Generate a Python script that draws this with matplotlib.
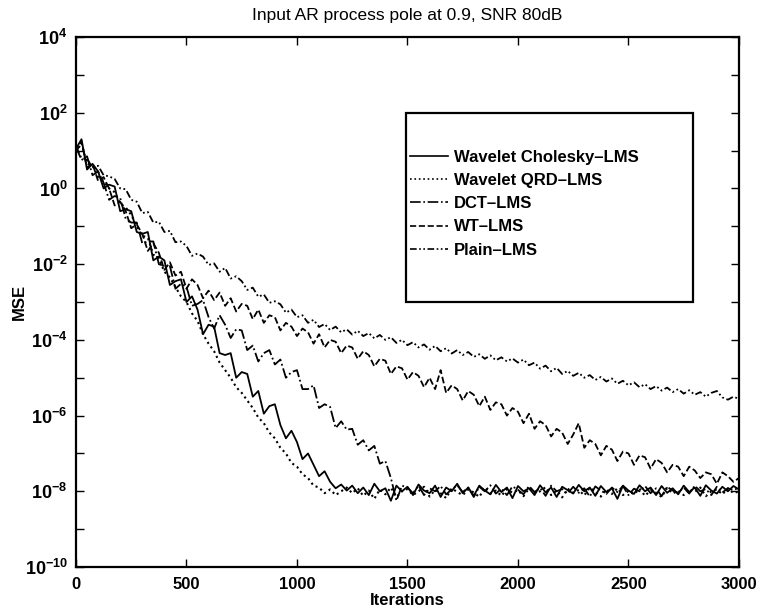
import matplotlib
matplotlib.use("Agg")
import matplotlib.pyplot as plt
from matplotlib.patches import Rectangle
from matplotlib.lines import Line2D
import numpy as np

plt.rcParams['font.family'] = ['Liberation Sans', 'DejaVu Sans']
plt.rcParams['mathtext.fontset'] = 'custom'
plt.rcParams['mathtext.rm'] = 'Liberation Sans:bold'
plt.rcParams['mathtext.it'] = 'Liberation Sans:bold'
plt.rcParams['mathtext.bf'] = 'Liberation Sans:bold'
plt.rcParams['mathtext.default'] = 'rm'

# ---------------- data (log10 of MSE, sampled every 25 iterations) ----------------
iterations = list(range(0, 3001, 25))

chol_log10 = [
    1.05, 1.3, 0.5, 0.65, 0.45, 0.0, 0.1, 0.05, -0.6, -0.55,
    -0.6, -1.15, -1.2, -1.15, -1.9, -1.8, -1.9, -2.55, -2.45, -2.4,
    -3.0, -2.85, -3.2, -3.85, -3.6, -3.65, -4.35, -4.4, -4.35, -5.0,
    -4.85, -4.9, -5.5, -5.35, -5.95, -5.75, -5.7, -6.25, -6.6, -6.4,
    -6.7, -7.15, -7.0, -7.3, -7.6, -7.47, -7.75, -7.92, -7.82, -7.98,
    -7.85, -8.05, -7.9, -8.1, -7.8, -8.0, -7.92, -8.25, -7.85, -8.0,
    -7.88, -8.1, -7.82, -7.98, -8.05, -7.85, -8.15, -7.9, -8.0, -7.8,
    -8.05, -7.9, -8.12, -7.85, -7.98, -8.08, -7.83, -8.02, -7.9, -8.18,
    -7.86, -8.0, -7.92, -8.1, -7.84, -8.03, -7.9, -8.15, -7.88, -7.97,
    -8.06, -7.83, -8.0, -7.9, -8.12, -7.86, -8.02, -7.92, -8.2, -7.85,
    -7.98, -8.07, -7.84, -8.0, -7.9, -8.1, -7.86, -8.04, -7.92, -8.08,
    -7.85, -8.02, -7.9, -8.12, -7.84, -7.98, -8.06, -7.88, -8.0, -7.86,
    -7.95,
]

qrd_log10 = [
    0.95, 1.2, 0.65, 0.6, 0.3, 0.2, 0.0, -0.1, -0.4, -0.5,
    -0.7, -1.0, -1.25, -1.3, -1.75, -1.85, -2.2, -2.35, -2.6, -2.85,
    -3.0, -3.3, -3.5, -3.85, -4.1, -4.3, -4.6, -4.8, -5.0, -5.25,
    -5.4, -5.6, -5.8, -6.05, -6.2, -6.45, -6.6, -6.85, -7.0, -7.25,
    -7.35, -7.55, -7.65, -7.85, -7.9, -8.05, -7.95, -8.1, -8.0, -7.9,
    -8.05, -7.92, -8.12, -7.98, -8.2, -7.95, -8.08, -7.9, -8.15, -8.0,
    -7.94, -8.1, -8.0, -7.88, -8.14, -7.96, -8.05, -8.18, -7.92, -8.02,
    -8.1, -7.95, -8.03, -8.15, -7.9, -8.06, -7.98, -8.12, -7.94, -8.04,
    -7.97, -8.13, -7.92, -8.05, -8.0, -7.89, -8.1, -7.98, -8.16, -7.93,
    -8.04, -7.96, -8.11, -7.9, -8.02, -8.14, -7.95, -8.07, -7.92, -8.1,
    -7.99, -8.08, -7.93, -8.12, -7.97, -8.04, -8.15, -7.91, -8.06, -7.98,
    -8.1, -7.94, -8.02, -7.9, -8.13, -8.0, -7.95, -8.08, -7.92, -8.05,
    -8.0,
]

dct_log10 = [
    1.1, 0.75, 0.85, 0.35, 0.45, 0.15, -0.3, -0.2, -0.25, -0.8,
    -0.9, -0.9, -1.45, -1.4, -1.4, -2.0, -2.05, -2.05, -2.65, -2.52,
    -2.6, -3.1, -3.05, -2.95, -3.4, -3.7, -3.35, -3.6, -3.95, -3.72,
    -3.75, -4.27, -4.15, -4.57, -4.35, -4.27, -4.65, -4.52, -5.0, -4.85,
    -4.8, -5.3, -5.3, -5.2, -5.8, -5.7, -5.77, -6.33, -6.15, -6.37,
    -6.35, -6.77, -6.65, -6.92, -6.8, -7.27, -7.2, -7.65, -8.25, -7.85,
    -7.9, -8.05, -7.85, -8.1, -7.92, -8.0, -7.86, -8.08, -7.95, -7.84,
    -8.02, -7.9, -8.15, -7.88, -8.0, -7.84, -8.06, -7.93, -8.1, -7.87,
    -7.96, -8.08, -7.86, -8.02, -7.91, -8.12, -7.85, -8.0, -7.94, -8.06,
    -7.88, -8.04, -7.92, -8.14, -7.87, -7.98, -8.07, -7.9, -8.02, -7.86,
    -8.1, -7.93, -8.0, -7.86, -8.05, -7.92, -8.13, -7.88, -7.98, -8.04,
    -7.9, -8.06, -7.85, -8.0, -7.94, -8.1, -7.88, -8.03, -7.92, -7.97,
    -7.9,
]

wt_log10 = [
    0.95, 1.25, 0.55, 0.65, 0.2, 0.3, 0.0, -0.45, -0.35, -0.6,
    -1.05, -0.95, -1.2, -1.65, -1.45, -1.7, -2.15, -1.95, -2.3, -2.2,
    -2.65, -2.4, -2.55, -2.9, -2.7, -2.95, -2.75, -3.1, -2.9, -3.25,
    -3.05, -3.1, -3.45, -3.2, -3.55, -3.35, -3.4, -3.75, -3.55, -3.65,
    -3.9, -3.7, -3.8, -4.1, -3.85, -4.2, -4.0, -4.05, -4.35, -4.15,
    -4.2, -4.5, -4.3, -4.4, -4.7, -4.5, -4.55, -4.9, -4.7, -4.75,
    -5.05, -4.85, -4.95, -5.25, -5.0, -5.3, -4.8, -5.4, -5.2, -5.3,
    -5.6, -5.35, -5.45, -5.75, -5.5, -5.85, -5.65, -5.7, -6.0, -5.8,
    -5.9, -6.2, -5.95, -6.35, -6.15, -6.25, -6.55, -6.35, -6.45, -6.75,
    -6.5, -6.2, -6.85, -6.65, -6.75, -7.05, -6.8, -6.9, -7.2, -6.95,
    -7.0, -7.3, -7.05, -7.1, -7.4, -7.15, -7.25, -7.5, -7.3, -7.35,
    -7.6, -7.35, -7.45, -7.65, -7.5, -7.55, -7.8, -7.5, -7.6, -7.75,
    -7.65,
]

plain_log10 = [
    1.1, 0.8, 0.78, 0.55, 0.6, 0.35, 0.32, 0.25, 0.0, -0.02,
    -0.3, -0.35, -0.65, -0.62, -0.9, -0.88, -1.15, -1.12, -1.42, -1.4,
    -1.52, -1.78, -1.72, -1.8, -2.02, -1.98, -2.2, -2.1, -2.38, -2.32,
    -2.45, -2.68, -2.62, -2.86, -2.8, -3.02, -2.98, -3.06, -3.28, -3.2,
    -3.4, -3.35, -3.55, -3.47, -3.66, -3.58, -3.74, -3.65, -3.8, -3.72,
    -3.86, -3.76, -3.9, -3.82, -3.96, -3.87, -4.0, -3.93, -4.08, -4.0,
    -4.14, -4.06, -4.2, -4.12, -4.26, -4.16, -4.3, -4.22, -4.36, -4.27,
    -4.4, -4.32, -4.45, -4.38, -4.5, -4.41, -4.54, -4.46, -4.57, -4.49,
    -4.6, -4.52, -4.67, -4.6, -4.76, -4.68, -4.83, -4.74, -4.9, -4.82,
    -4.95, -4.87, -5.0, -4.93, -5.06, -4.98, -5.1, -5.02, -5.16, -5.08,
    -5.2, -5.12, -5.25, -5.17, -5.3, -5.22, -5.34, -5.26, -5.38, -5.3,
    -5.42, -5.33, -5.45, -5.38, -5.5, -5.4, -5.35, -5.52, -5.58, -5.5,
    -5.56,
]

series_names = ["Wavelet Cholesky\u2013LMS", "Wavelet QRD\u2013LMS", "DCT\u2013LMS",
                "WT\u2013LMS", "Plain\u2013LMS"]

x_ticks = [0, 500, 1000, 1500, 2000, 2500, 3000]
x_tick_labels = ["0", "500", "1000", "1500", "2000", "2500", "3000"]
y_exponents_major = [4, 2, 0, -2, -4, -6, -8, -10]
y_exponents_all = list(range(-10, 5))

title_text = "Input AR process pole at 0.9, SNR 80dB"
x_label = "Iterations"
y_label = "MSE"

# ---------------- plotting ----------------
fig = plt.figure(figsize=(7.59, 6.12), dpi=100)
ax = fig.add_axes([0.1001, 0.0735, 0.8735, 0.866])

styles = ['-', ':', '-.', '--', (0, (4, 1.5, 1, 1.5, 1, 1.5))]
data = [chol_log10, qrd_log10, dct_log10, wt_log10, plain_log10]
widths = [1.3, 1.5, 1.3, 1.3, 1.3]
for vals, ls, lw in zip(data, styles, widths):
    ax.plot(iterations, 10.0 ** np.array(vals), color='black', linestyle=ls, linewidth=lw)

ax.set_yscale('log')
ax.set_xlim(0, 3000)
ax.set_ylim(1e-10, 1e4)

ax.set_xticks(x_ticks)
ax.set_xticklabels(x_tick_labels, fontsize=12, fontweight='bold')
ax.set_yticks([10.0 ** e for e in y_exponents_all])
ax.set_yticklabels([r"$10^{%d}$" % e if e in y_exponents_major else "" for e in y_exponents_all],
                   fontsize=13)
ax.yaxis.set_minor_locator(matplotlib.ticker.NullLocator())

ax.tick_params(axis='both', which='both', direction='in', top=True, right=True,
               length=6, width=1.0)
ax.tick_params(axis='x', pad=7)
ax.tick_params(axis='y', pad=6)
for sp in ax.spines.values():
    sp.set_linewidth(1.6)

ax.set_title(title_text, fontsize=12.5, pad=12)
ax.set_xlabel(x_label, fontsize=12, fontweight='bold', labelpad=1)
ax.set_ylabel(y_label, fontsize=12, fontweight='bold', labelpad=-2)

# legend frame (drawn as a rectangle) and entries
ax.add_patch(Rectangle((0.498, 0.5), 0.433, 0.357, transform=ax.transAxes,
                       fill=True, facecolor='white', edgecolor='black', linewidth=1.6,
                       zorder=5))
handles = [Line2D([0], [0], color='black', linestyle=ls, linewidth=1.2) for ls in styles]
leg = ax.legend(handles, series_names, loc='upper left', bbox_to_anchor=(0.504, 0.787),
                frameon=False, borderpad=0, borderaxespad=0, handlelength=2.3,
                handletextpad=0.35, labelspacing=0.49,
                prop={'family': 'Liberation Sans', 'weight': 'bold', 'size': 12})
leg.set_zorder(6)

fig.savefig("out.png", dpi=100)
